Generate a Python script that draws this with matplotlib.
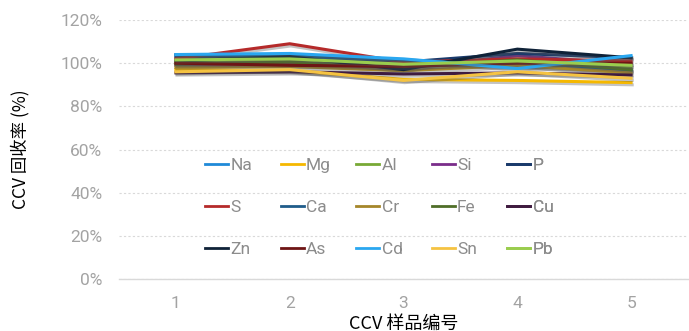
import matplotlib

matplotlib.use("Agg")
import matplotlib.pyplot as plt
import matplotlib.patheffects as pe
from matplotlib.ticker import PercentFormatter

# CCV sample number
SAMPLES = [1, 2, 3, 4, 5]

# recovery (%) per element
NA = [103.5, 103.0, 101.0, 98.5, 97.0]
MG = [97.0, 96.5, 92.5, 92.0, 91.0]
AL = [100.5, 101.5, 99.5, 100.5, 98.0]
SI = [99.0, 100.0, 97.5, 103.5, 99.5]
P = [102.5, 103.5, 100.5, 104.5, 102.5]
S = [102.0, 109.0, 100.5, 102.0, 101.0]
CA = [104.0, 103.0, 101.5, 99.5, 96.5]
CR = [98.0, 98.5, 96.5, 99.0, 95.5]
FE = [99.5, 100.5, 98.0, 101.5, 97.0]
CU = [95.5, 96.0, 95.0, 95.5, 94.5]
ZN = [101.0, 103.0, 97.0, 106.5, 102.5]
AS = [100.0, 99.0, 98.5, 100.0, 100.0]
CD = [104.0, 104.5, 102.0, 97.5, 103.5]
SN = [96.0, 97.0, 92.0, 96.0, 93.0]
PB = [101.5, 102.0, 99.5, 101.0, 99.0]

ELEMENTS = ["Na", "Mg", "Al", "Si", "P", "S", "Ca", "Cr", "Fe", "Cu", "Zn", "As", "Cd", "Sn", "Pb"]
SERIES = [NA, MG, AL, SI, P, S, CA, CR, FE, CU, ZN, AS, CD, SN, PB]
COLORS = [
    "#1f8ad8", "#f5b800", "#78a935", "#7a2d8a", "#1a3a6b",
    "#b52a2a", "#1f5c8a", "#a5862a", "#4f6e28", "#3f1b3f",
    "#0f2238", "#6e1515", "#2aa7f0", "#f5c342", "#9acd4e",
]

CJK = ["Noto Sans CJK SC", "DejaVu Sans"]
TICK_FONT = "Roboto"
GRAY = "#a3a3a3"

fig = plt.figure(figsize=(6.89, 3.31), dpi=100)
ax = fig.add_axes([119 / 689, 1 - 279 / 331, 569 / 689, 259 / 331])

lines = []
for name, vals, color in zip(ELEMENTS, SERIES, COLORS):
    (ln,) = ax.plot(
        SAMPLES, [v / 100 for v in vals], color=color, linewidth=2.2, label=name,
        solid_joinstyle="miter", zorder=3,
        path_effects=[pe.SimpleLineShadow(offset=(0.8, -1.6), shadow_color="#555555", alpha=0.35), pe.Normal()],
    )
    lines.append(ln)

ax.set_xlim(0.5, 5.5)
ax.set_ylim(0, 1.2)
ax.set_yticks([0, 0.2, 0.4, 0.6, 0.8, 1.0, 1.2])
ax.yaxis.set_major_formatter(PercentFormatter(1.0, decimals=0))
ax.set_xticks(SAMPLES)

for side in ("top", "right", "left"):
    ax.spines[side].set_visible(False)
ax.spines["bottom"].set_color("#d9d9d9")
ax.spines["bottom"].set_linewidth(1.0)
ax.grid(axis="y", color="#d9d9d9", linestyle=(0, (2, 2)), linewidth=0.8)
ax.set_axisbelow(True)
ax.tick_params(axis="both", length=0, colors=GRAY, labelsize=12.5)
ax.tick_params(axis="x", pad=12)
ax.tick_params(axis="y", pad=12)
for lab in ax.get_xticklabels() + ax.get_yticklabels():
    lab.set_fontfamily(TICK_FONT)
    lab.set_color(GRAY)

ax.set_ylabel("CCV 回收率 (%)", family=CJK, fontsize=12.5, color="black", labelpad=22)
ax.set_xlabel("CCV 样品编号", family=CJK, fontsize=13, color="black", labelpad=3)

# legend: 5 columns, 3 rows, evenly spaced
col_w = 75.5 / 569
x0 = (205 - 119) / 569
for j in range(5):
    idx = [j, j + 5, j + 10]
    leg = ax.legend(
        [lines[i] for i in idx], [ELEMENTS[i] for i in idx],
        loc="upper left", bbox_to_anchor=(x0 + j * col_w, 0.468),
        frameon=False, handlelength=1.35, handletextpad=0.12,
        labelspacing=1.55, borderaxespad=0, borderpad=0,
        prop={"family": TICK_FONT, "size": 12.5},
    )
    for t in leg.get_texts():
        t.set_color("#8c8c8c")
    for h in leg.legend_handles:
        h.set_path_effects([])
        h.set_linewidth(2.0)
    ax.add_artist(leg)

fig.savefig("out.png", dpi=100)
